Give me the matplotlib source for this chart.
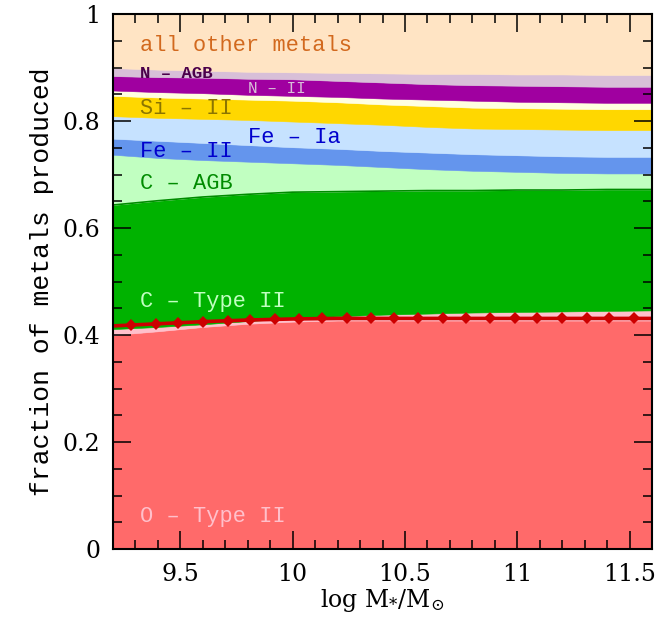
import matplotlib
matplotlib.use("Agg")
import matplotlib.pyplot as plt
import numpy as np
from matplotlib.ticker import MultipleLocator

plt.rcParams["font.family"] = ["DejaVu Serif"]
plt.rcParams["mathtext.fontset"] = "dejavuserif"

# stellar mass grid
log_mstar = [9.2, 9.4, 9.6, 9.8, 10.0, 10.2, 10.4, 10.6, 10.8, 11.0, 11.2, 11.4, 11.6]

# fraction of metals contributed by each element / channel (stacked bottom to top)
o_type2  = [0.400, 0.407, 0.415, 0.421, 0.425, 0.427, 0.427, 0.427, 0.427, 0.427, 0.427, 0.427, 0.427]
o_other  = [0.011, 0.008, 0.005, 0.005, 0.006, 0.008, 0.011, 0.013, 0.015, 0.016, 0.017, 0.018, 0.019]
c_type2  = [0.232, 0.236, 0.238, 0.237, 0.236, 0.233, 0.231, 0.230, 0.228, 0.228, 0.227, 0.227, 0.226]
c_agb    = [0.094, 0.080, 0.069, 0.061, 0.054, 0.050, 0.045, 0.040, 0.037, 0.034, 0.032, 0.030, 0.030]
fe_type2 = [0.030, 0.032, 0.032, 0.031, 0.030, 0.030, 0.030, 0.031, 0.031, 0.031, 0.031, 0.031, 0.031]
fe_ia    = [0.042, 0.043, 0.045, 0.047, 0.048, 0.048, 0.049, 0.048, 0.048, 0.049, 0.050, 0.050, 0.050]
si_type2 = [0.038, 0.038, 0.038, 0.038, 0.039, 0.039, 0.038, 0.039, 0.039, 0.039, 0.039, 0.039, 0.039]
minor_ch = [0.010, 0.010, 0.010, 0.009, 0.009, 0.010, 0.011, 0.012, 0.013, 0.012, 0.012, 0.012, 0.012]
n_type2  = [0.027, 0.028, 0.029, 0.030, 0.031, 0.030, 0.030, 0.029, 0.029, 0.030, 0.030, 0.030, 0.030]
n_agb    = [0.015, 0.014, 0.013, 0.013, 0.013, 0.015, 0.017, 0.019, 0.021, 0.021, 0.022, 0.022, 0.022]
other    = [0.101, 0.104, 0.106, 0.108, 0.109, 0.110, 0.111, 0.112, 0.112, 0.113, 0.113, 0.114, 0.114]

components = [o_type2, o_other, c_type2, c_agb, fe_type2, fe_ia, si_type2,
              minor_ch, n_type2, n_agb, other]
colors = ["#FF6A6A", "#FFC0CB", "#00B200", "#C1FFC1", "#6495ED", "#C6E2FF",
          "#FFD700", "#FFFFE0", "#A000A0", "#D8BFD8", "#FFE4C4"]

# reference oxygen curve (line with markers)
oline_y = [0.417, 0.421, 0.425, 0.428, 0.430, 0.431, 0.431, 0.431, 0.431, 0.431, 0.431, 0.431, 0.431]
omark_x = [9.28, 9.39, 9.49, 9.60, 9.71, 9.81, 9.92, 10.03, 10.13, 10.24, 10.35,
           10.45, 10.56, 10.67, 10.77, 10.88, 10.99, 11.09, 11.20, 11.31, 11.41, 11.52]
omark_y = [0.419, 0.421, 0.423, 0.425, 0.427, 0.428, 0.429, 0.430, 0.431, 0.431, 0.431,
           0.431, 0.431, 0.431, 0.431, 0.431, 0.431, 0.431, 0.431, 0.431, 0.431, 0.431]

fig = plt.figure(figsize=(6.71, 6.17), dpi=100)
ax = fig.add_axes([0.1684, 0.1102, 0.8033, 0.8671])

x = np.array(log_mstar)
base = np.zeros_like(x)
for comp, col in zip(components, colors):
    top = base + np.array(comp)
    ax.fill_between(x, base, top, facecolor=col, edgecolor=col, lw=0.4, zorder=1)
    base = top

# edge of the C Type II band
c_top = np.array(o_type2) + np.array(o_other) + np.array(c_type2)
ax.plot(x, c_top, color="#008B00", lw=1.2, zorder=2)

ax.plot(x, oline_y, color="#CC0000", lw=2.6, zorder=3, solid_capstyle="butt")
ax.plot(omark_x, omark_y, ls="none", marker="D", ms=6, color="#CC0000",
        markeredgewidth=0, zorder=3)

mono = ["Liberation Mono", "DejaVu Sans Mono"]
lab = dict(family=mono, zorder=5, va="center")
ax.text(9.32, 0.942, "all other metals", color="#D2691E", fontsize=15.8, **lab)
ax.text(9.32, 0.889, "N \u2013 AGB", color="#4B004B", fontsize=12.5,
        fontweight="bold", **lab)
ax.text(9.80, 0.861, "N \u2013 II", color="#D8BFD8", fontsize=11.5, **lab)
ax.text(9.32, 0.823, "Si \u2013 II", color="#8B7500", fontsize=15.8, **lab)
ax.text(9.80, 0.769, "Fe \u2013 Ia", color="#0000CD", fontsize=15.8, **lab)
ax.text(9.32, 0.743, "Fe \u2013 II", color="#0000CD", fontsize=15.8, **lab)
ax.text(9.32, 0.684, "C \u2013 AGB", color="#008B00", fontsize=15.8, **lab)
ax.text(9.32, 0.462, "C \u2013 Type II", color="#C1FFC1", fontsize=15.8, **lab)
ax.text(9.32, 0.061, "O \u2013 Type II", color="#FFC0CB", fontsize=15.8, **lab)

ax.set_xlim(9.2, 11.6)
ax.set_ylim(0, 1)
ax.xaxis.set_minor_locator(MultipleLocator(0.1))
ax.yaxis.set_minor_locator(MultipleLocator(0.05))
ax.set_yticks([0, 0.2, 0.4, 0.6, 0.8, 1.0])
ax.set_yticklabels(["0", "0.2", "0.4", "0.6", "0.8", "1"])
ax.set_xticks([9.5, 10, 10.5, 11, 11.5])
ax.set_xticklabels(["9.5", "10", "10.5", "11", "11.5"])
ax.tick_params(which="both", direction="in", top=True, right=True, labelsize=17,
               width=1.1, colors="black")
ax.tick_params(which="major", length=13)
ax.tick_params(axis="x", which="major", pad=10)
ax.tick_params(axis="y", which="major", pad=9)
ax.tick_params(which="minor", length=6.5)
for s in ax.spines.values():
    s.set_linewidth(1.5)
    s.set_zorder(7)
ax.set_axisbelow(False)

ax.set_xlabel(r"log M$_{*}$/M$_{\odot}$", fontsize=17, labelpad=1)
ax.set_ylabel("fraction of metals produced", fontsize=19, labelpad=6, family=mono)

fig.savefig("out.png", dpi=100)
